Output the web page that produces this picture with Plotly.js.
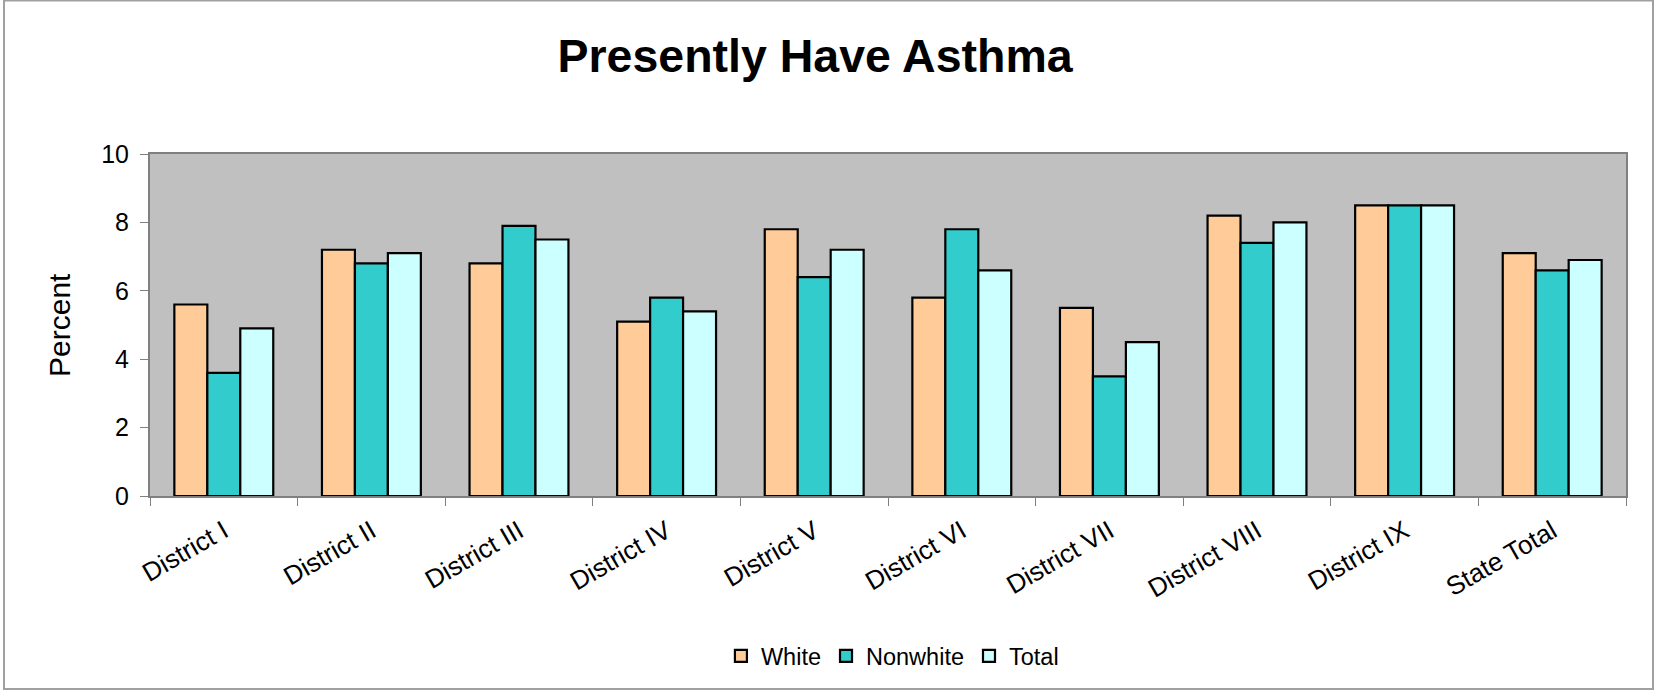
<!DOCTYPE html>
<html>
<head>
<meta charset="utf-8">
<script src="https://cdn.plot.ly/plotly-3.0.1.min.js"></script>
<style>
html,body{margin:0;padding:0;background:#fff;}
#chart{width:1655px;height:691px;}
</style>
</head>
<body>
<div id="chart"></div>
<script>
const categories = ["District I","District II","District III","District IV","District V","District VI","District VII","District VIII","District IX","State Total"];
const white = [5.6, 7.2, 6.8, 5.1, 7.8, 5.8, 5.5, 8.2, 8.5, 7.1];
const nonwhite = [3.6, 6.8, 7.9, 5.8, 6.4, 7.8, 3.5, 7.4, 8.5, 6.6];
const total = [4.9, 7.1, 7.5, 5.4, 7.2, 6.6, 4.5, 8.0, 8.5, 6.9];
const yTicks = [0, 2, 4, 6, 8, 10];

const mk = (name, y, color) => ({
  type: 'bar', name: name, x: categories, y: y,
  marker: {color: color, line: {color: '#000', width: 2.2}}
});

const data = [
  mk('White', white, '#FFCC99'),
  mk('Nonwhite', nonwhite, '#33CCCC'),
  mk('Total', total, '#CCFFFF')
];

const font = 'Liberation Sans, Arial, sans-serif';
const layout = {
  width: 1655, height: 691,
  margin: {l: 150, r: 29, t: 154, b: 195},
  paper_bgcolor: '#ffffff',
  plot_bgcolor: '#C0C0C0',
  barmode: 'group',
  bargap: 0.33,
  bargroupgap: 0,
  showlegend: true,
  title: {text: 'Presently Have Asthma', font: {family: font, size: 46.5, color: '#000', weight: 'bold'},
          x: 0.4925, xanchor: 'center', y: 0.92, yanchor: 'middle', xref: 'container', yref: 'container'},
  xaxis: {
    type: 'category', tickangle: -30, tickfont: {family: font, size: 26, color: '#000'},
    ticks: 'outside', tickson: 'boundaries', ticklen: 8, tickcolor: '#808080', ticklabelstandoff: 8,
    showline: true, linecolor: '#808080', linewidth: 2, mirror: true, showgrid: false
  },
  yaxis: {
    range: [0, 10], tickvals: yTicks, ticktext: yTicks.map(String),
    tickfont: {family: font, size: 25, color: '#000'},
    ticks: 'outside', ticklen: 8, tickcolor: '#808080', ticklabelstandoff: 6,
    showline: true, linecolor: '#808080', linewidth: 2, mirror: true, showgrid: false, zeroline: false
  },
  legend: {orientation: 'h', x: 0.503, xanchor: 'center', y: -0.468, yanchor: 'middle',
           font: {family: font, size: 23.5, color: '#000'}, itemwidth: 30, traceorder: 'normal'},
  annotations: [{
    text: 'Percent', textangle: -90, xref: 'paper', yref: 'paper', x: -0.0617, y: 0.5,
    xanchor: 'center', yanchor: 'middle', showarrow: false, font: {family: font, size: 30, color: '#000'}
  }],
  shapes: [{
    type: 'rect', xref: 'paper', yref: 'paper', x0: -0.0989, x1: 1.0183, y0: -0.5643, y1: 1.4488,
    line: {color: '#A0A0A0', width: 2}, fillcolor: 'rgba(0,0,0,0)', layer: 'below'
  }]
};

Plotly.newPlot('chart', data, layout, {displayModeBar: false, staticPlot: true});
</script>
</body>
</html>
